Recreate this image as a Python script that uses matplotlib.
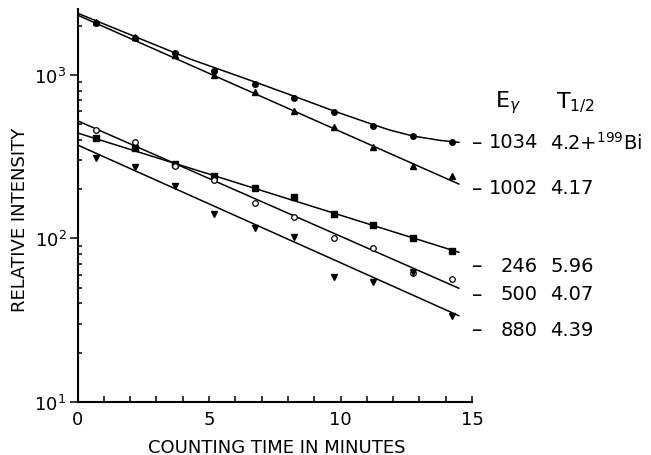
import numpy as np
import matplotlib.pyplot as plt
from matplotlib.ticker import LogLocator, MultipleLocator, NullFormatter

# Decay curves of the gamma lines.

t = [0.7, 2.2, 3.7, 5.2, 6.75, 8.25, 9.75, 11.25, 12.75, 14.25]

i_1034 = [2081, 1678, 1358, 1058, 881, 720, 591, 485, 421, 387]
i_1002 = [2125, 1697, 1326, 1007, 791, 604, 479, 364, 279, 242]
i_246 = [410, 356, 285, 242, 202, 178, 141, 121, 100.5, 84]
i_500 = [460, 391, 279, 229, 164, 135, 100, 87, 61, 56]
i_880 = [309, 272, 210, 141, 116, 102, 58, 54, 62, 33.6]

# hand drawn fits
fit_t = [0, 14.5]
fit_1002 = [2328, 215]
fit_246 = [442, 82.2]
fit_500 = [525, 49.5]
fit_880 = [373, 33.6]

curve_t = [0, 4.28, 6.75, 8.27, 9.75, 11.24, 11.88, 12.76, 13.78, 14.5]
curve_1034 = [2390, 1253, 906, 738, 602, 497, 460, 423, 398, 387]

labels_e = ['1034', '1002', '246', '500', '880']
labels_t = ['4.2+$^{199}$Bi', '4.17', '5.96', '4.07', '4.39']
label_y = [143, 189, 266, 295, 330]

W, H = 651, 456
fig = plt.figure(figsize=(W / 100, H / 100), dpi=100)
ax = fig.add_axes([77.5 / W, 1 - 402.7 / H, (472 - 77.5) / W, (402.7 - 10) / H])

lw = 1.1
ax.plot(curve_t, curve_1034, color='black', lw=lw)
ax.plot(fit_t, fit_1002, color='black', lw=lw)
ax.plot(fit_t, fit_246, color='black', lw=lw)
ax.plot(fit_t, fit_500, color='black', lw=lw)
ax.plot(fit_t, fit_880, color='black', lw=lw)

ax.plot(t, i_1034, 'o', color='black', ms=4)
ax.plot(t, i_1002, '^', color='black', ms=4.5)
ax.plot(t, i_246, 's', color='black', ms=3.8)
ax.plot(t, i_500, 'o', mfc='white', mec='black', mew=0.9, ms=4)
ax.plot(t, i_880, 'v', color='black', ms=4.5)

ax.set_yscale('log')
ax.set_xlim(0, 15)
ax.set_ylim(10, 2536)

for s in ['top', 'right']:
    ax.spines[s].set_visible(False)
for s in ['left', 'bottom']:
    ax.spines[s].set_linewidth(1.5)

ax.xaxis.set_major_locator(MultipleLocator(5))
ax.xaxis.set_minor_locator(MultipleLocator(1))
ax.yaxis.set_major_locator(LogLocator(base=10))
ax.yaxis.set_minor_locator(LogLocator(base=10, subs=np.arange(2, 10)))
ax.yaxis.set_minor_formatter(NullFormatter())

ax.tick_params(axis='x', which='both', direction='in', length=4.5, width=1.1,
               labelsize=13, pad=6)
ax.tick_params(axis='y', which='major', direction='out', length=6, width=1.1,
               labelsize=13, pad=2)
ax.tick_params(axis='y', which='minor', direction='in', length=3, width=1.1)

fig.text(277 / W, 1 - 448 / H, 'COUNTING TIME IN MINUTES', ha='center',
         va='center', fontsize=13)
fig.text(20 / W, 1 - 220 / H, 'RELATIVE INTENSITY', ha='center', va='center',
         rotation=90, fontsize=13)

fig.text(508 / W, 1 - 103 / H, r'E$_\gamma$', ha='center', va='center', fontsize=16)
fig.text(575 / W, 1 - 103 / H, r'T$_{1/2}$', ha='center', va='center', fontsize=16)

for e, tt, y in zip(labels_e, labels_t, label_y):
    fig.text(472 / W, 1 - y / H, '\u2013', ha='left', va='center', fontsize=15)
    fig.text(538 / W, 1 - y / H, e, ha='right', va='center', fontsize=14)
    fig.text(550 / W, 1 - y / H, tt, ha='left', va='center', fontsize=14)

fig.savefig('out.png', dpi=100)
